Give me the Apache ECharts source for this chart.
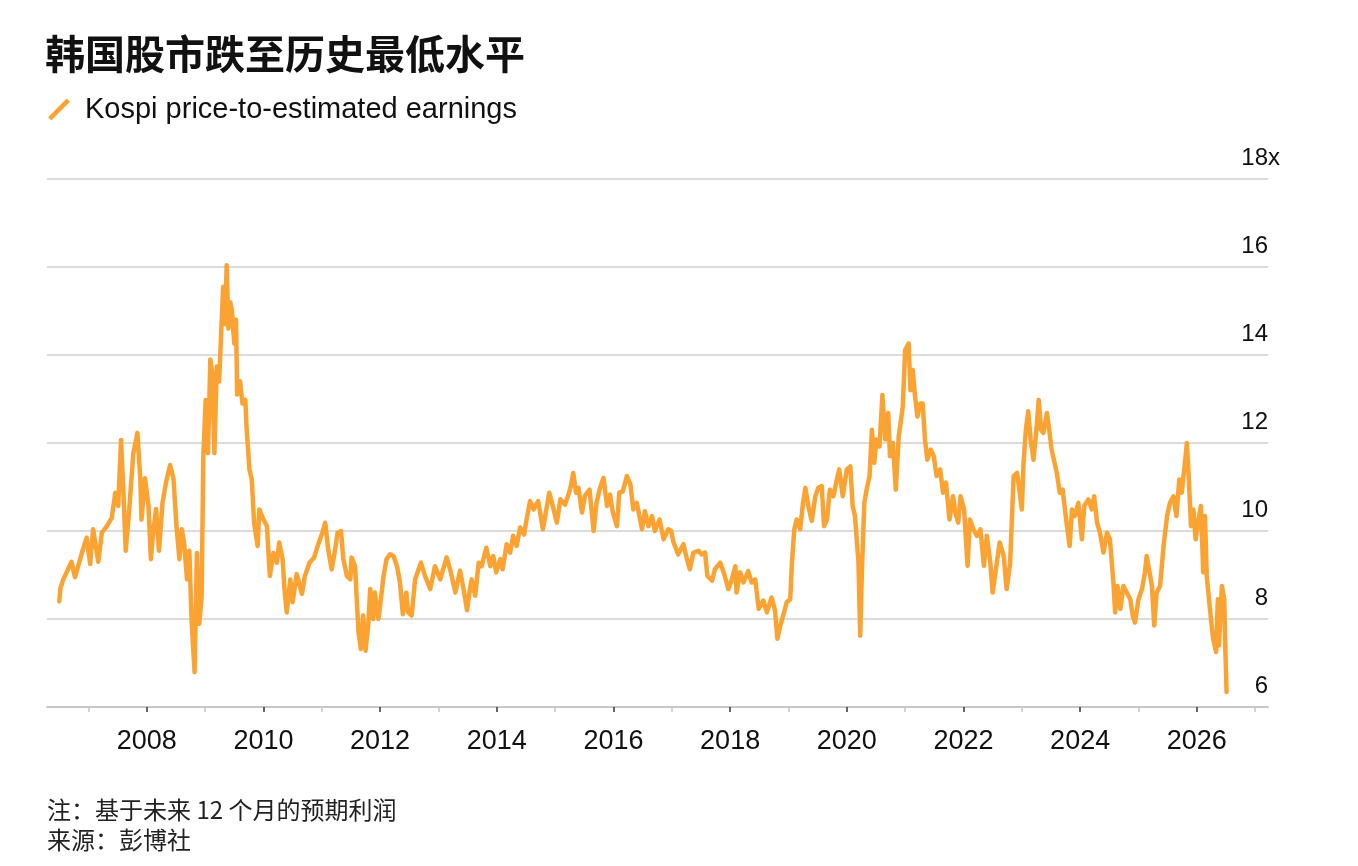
<!DOCTYPE html>
<html>
<head>
<meta charset="utf-8">
<title>韩国股市跌至历史最低水平</title>
<script src="https://cdn.jsdelivr.net/npm/echarts@6/dist/echarts.min.js"></script>
<style>
  html, body { margin: 0; padding: 0; background: #fff; }
  #main { width: 1358px; height: 866px; }
</style>
</head>
<body>
<div id="main"></div>
<script>
// 日期（年份，小数表示年内位置）
var dates = [
  2006.50, 2006.52, 2006.57, 2006.71, 2006.77, 2006.91, 2006.97, 2007.03, 2007.08, 2007.17,
  2007.23, 2007.31, 2007.40, 2007.46, 2007.51, 2007.56, 2007.60, 2007.64, 2007.70, 2007.77,
  2007.84, 2007.89, 2007.91, 2007.97, 2008.03, 2008.07, 2008.11, 2008.16, 2008.21, 2008.27,
  2008.33, 2008.40, 2008.46, 2008.51, 2008.56, 2008.60, 2008.64, 2008.69, 2008.73, 2008.77,
  2008.82, 2008.86, 2008.90, 2008.94, 2008.97, 2009.01, 2009.05, 2009.09, 2009.12, 2009.16,
  2009.20, 2009.24, 2009.29, 2009.31, 2009.34, 2009.37, 2009.40, 2009.43, 2009.46, 2009.50,
  2009.53, 2009.55, 2009.60, 2009.64, 2009.69, 2009.71, 2009.76, 2009.80, 2009.84, 2009.90,
  2009.93, 2010.00, 2010.06, 2010.11, 2010.17, 2010.23, 2010.27, 2010.33, 2010.36, 2010.40,
  2010.46, 2010.50, 2010.57, 2010.66, 2010.71, 2010.79, 2010.87, 2010.94, 2011.00, 2011.06,
  2011.11, 2011.17, 2011.23, 2011.27, 2011.33, 2011.37, 2011.43, 2011.49, 2011.51, 2011.57,
  2011.63, 2011.67, 2011.71, 2011.75, 2011.80, 2011.83, 2011.88, 2011.91, 2011.97, 2012.00,
  2012.06, 2012.11, 2012.17, 2012.23, 2012.29, 2012.34, 2012.39, 2012.45, 2012.48, 2012.54,
  2012.60, 2012.66, 2012.70, 2012.77, 2012.86, 2012.94, 2013.03, 2013.14, 2013.20, 2013.29,
  2013.37, 2013.43, 2013.49, 2013.54, 2013.57, 2013.63, 2013.69, 2013.74, 2013.82, 2013.89,
  2013.94, 2013.99, 2014.06, 2014.10, 2014.17, 2014.23, 2014.28, 2014.34, 2014.40, 2014.47,
  2014.51, 2014.57, 2014.63, 2014.71, 2014.79, 2014.85, 2014.90, 2014.96, 2015.03, 2015.09,
  2015.17, 2015.23, 2015.27, 2015.31, 2015.36, 2015.40, 2015.46, 2015.51, 2015.59, 2015.66,
  2015.71, 2015.77, 2015.83, 2015.89, 2015.94, 2015.99, 2016.06, 2016.10, 2016.16, 2016.23,
  2016.29, 2016.34, 2016.40, 2016.49, 2016.54, 2016.60, 2016.66, 2016.71, 2016.79, 2016.86,
  2016.94, 2016.99, 2017.03, 2017.11, 2017.20, 2017.26, 2017.31, 2017.37, 2017.46, 2017.51,
  2017.57, 2017.61, 2017.69, 2017.74, 2017.83, 2017.89, 2017.97, 2018.03, 2018.09, 2018.11,
  2018.17, 2018.23, 2018.31, 2018.37, 2018.43, 2018.49, 2018.57, 2018.63, 2018.71, 2018.77,
  2018.81, 2018.86, 2018.91, 2018.97, 2019.03, 2019.06, 2019.10, 2019.14, 2019.20, 2019.25,
  2019.29, 2019.34, 2019.40, 2019.46, 2019.51, 2019.57, 2019.61, 2019.66, 2019.71, 2019.77,
  2019.83, 2019.87, 2019.93, 2020.00, 2020.06, 2020.10, 2020.14, 2020.20, 2020.23, 2020.26,
  2020.30, 2020.34, 2020.39, 2020.43, 2020.47, 2020.51, 2020.56, 2020.61, 2020.66, 2020.71,
  2020.74, 2020.79, 2020.84, 2020.89, 2020.93, 2020.96, 2021.00, 2021.06, 2021.09, 2021.13,
  2021.17, 2021.21, 2021.26, 2021.30, 2021.34, 2021.38, 2021.44, 2021.49, 2021.54, 2021.60,
  2021.65, 2021.70, 2021.76, 2021.82, 2021.86, 2021.91, 2021.95, 2022.01, 2022.07, 2022.11,
  2022.17, 2022.23, 2022.29, 2022.35, 2022.40, 2022.46, 2022.50, 2022.54, 2022.62, 2022.69,
  2022.74, 2022.80, 2022.86, 2022.92, 2023.00, 2023.03, 2023.07, 2023.11, 2023.15, 2023.20,
  2023.25, 2023.29, 2023.33, 2023.37, 2023.43, 2023.47, 2023.51, 2023.55, 2023.60, 2023.65,
  2023.70, 2023.76, 2023.82, 2023.86, 2023.91, 2023.97, 2024.03, 2024.07, 2024.14, 2024.20,
  2024.24, 2024.29, 2024.34, 2024.40, 2024.46, 2024.51, 2024.57, 2024.60, 2024.64, 2024.69,
  2024.74, 2024.80, 2024.86, 2024.90, 2024.94, 2025.00, 2025.06, 2025.11, 2025.14, 2025.20,
  2025.23, 2025.27, 2025.31, 2025.37, 2025.43, 2025.49, 2025.54, 2025.60, 2025.65, 2025.70,
  2025.74, 2025.79, 2025.83, 2025.86, 2025.90, 2025.94, 2025.98, 2026.03, 2026.07, 2026.11,
  2026.14, 2026.17, 2026.22, 2026.26, 2026.28, 2026.33, 2026.36, 2026.38, 2026.43, 2026.47,
  2026.49, 2026.51
];

// Kospi 预期市盈率
var pe = [
  8.40, 8.70, 8.90, 9.30, 8.95, 9.60, 9.85, 9.25, 10.04, 9.30,
  9.96, 10.10, 10.30, 10.87, 10.57, 12.07, 10.87, 9.55, 10.50, 11.77,
  12.23, 11.17, 10.26, 11.20, 10.57, 9.36, 9.96, 10.50, 9.55, 10.64,
  11.10, 11.50, 11.17, 10.10, 9.36, 10.04, 9.74, 8.90, 9.55, 7.92,
  6.79, 9.50, 7.89, 8.50, 11.70, 12.98, 11.77, 13.90, 13.60, 11.77,
  13.74, 13.40, 14.94, 15.55, 14.70, 16.04, 14.60, 15.20, 15.00, 14.26,
  14.80, 13.10, 13.40, 12.90, 12.98, 12.38, 11.40, 11.17, 10.19, 9.66,
  10.49, 10.26, 10.11, 8.98, 9.50, 9.28, 9.74, 9.36, 8.68, 8.15,
  8.90, 8.38, 9.02, 8.57, 8.98, 9.28, 9.40, 9.70, 9.92, 10.19,
  9.58, 9.13, 9.58, 9.96, 10.00, 9.36, 8.98, 8.90, 9.40, 9.20,
  7.70, 7.32, 8.08, 7.28, 7.92, 8.68, 8.00, 8.60, 8.00, 8.30,
  8.98, 9.36, 9.47, 9.43, 9.20, 8.83, 8.11, 8.60, 8.15, 8.08,
  8.90, 9.13, 9.28, 8.98, 8.68, 9.20, 8.90, 9.40, 9.13, 8.60,
  9.10, 8.68, 8.20, 8.68, 8.90, 8.53, 9.28, 9.20, 9.62, 9.20,
  9.43, 9.06, 9.36, 9.13, 9.70, 9.51, 9.89, 9.66, 10.08, 9.92,
  10.26, 10.68, 10.49, 10.68, 10.04, 10.49, 10.87, 10.57, 10.19, 10.72,
  10.60, 10.83, 11.02, 11.32, 10.87, 10.98, 10.42, 10.80, 10.94, 10.00,
  10.64, 10.98, 11.21, 10.57, 10.83, 10.42, 10.11, 10.87, 10.90, 11.25,
  11.06, 10.49, 10.64, 10.04, 10.45, 10.11, 10.34, 10.00, 10.26, 9.81,
  10.04, 10.00, 9.74, 9.47, 9.70, 9.36, 9.13, 9.51, 9.55, 9.47,
  9.51, 8.98, 8.87, 9.13, 9.28, 9.06, 8.68, 8.90, 9.20, 8.60,
  9.06, 8.83, 9.09, 8.83, 8.90, 8.23, 8.42, 8.15, 8.49, 8.19,
  7.55, 7.85, 8.08, 8.38, 8.45, 9.28, 10.04, 10.26, 10.04, 10.64,
  10.98, 10.57, 10.23, 10.79, 10.98, 11.02, 10.11, 10.26, 10.94, 10.79,
  11.17, 11.40, 10.79, 11.40, 11.47, 10.57, 10.34, 9.28, 7.62, 9.13,
  10.64, 10.94, 11.25, 12.30, 11.55, 12.08, 11.92, 13.09, 12.08, 12.68,
  11.70, 12.00, 10.94, 12.15, 12.53, 12.83, 14.11, 14.26, 13.20, 13.66,
  13.06, 12.60, 12.90, 12.90, 12.08, 11.62, 11.85, 11.70, 11.25, 11.40,
  10.87, 11.10, 10.26, 10.79, 10.42, 10.19, 10.79, 10.49, 9.21, 10.26,
  10.04, 9.89, 10.04, 9.21, 9.89, 9.28, 8.60, 8.98, 9.74, 9.43,
  8.68, 9.28, 11.25, 11.32, 10.49, 11.55, 12.30, 12.72, 12.08, 11.62,
  12.30, 12.98, 12.30, 12.23, 12.68, 12.30, 11.85, 11.62, 11.32, 10.87,
  10.94, 10.26, 9.66, 10.49, 10.34, 10.64, 9.81, 10.57, 10.72, 10.49,
  10.79, 10.19, 9.96, 9.51, 9.96, 9.81, 8.83, 8.15, 8.75, 8.23,
  8.75, 8.60, 8.45, 8.08, 7.92, 8.45, 8.68, 9.06, 9.43, 8.98,
  8.75, 7.85, 8.60, 8.75, 9.66, 10.34, 10.64, 10.79, 10.34, 11.17,
  10.87, 11.47, 12.00, 11.25, 10.11, 10.49, 9.81, 10.26, 10.57, 9.06,
  10.34, 8.98, 8.30, 7.77, 7.55, 7.25, 8.45, 7.40, 8.75, 8.45,
  7.25, 6.34
];

// 坐标轴刻度
var labelYears = [2008, 2010, 2012, 2014, 2016, 2018, 2020, 2022, 2024, 2026];
var minorYears = [2007, 2009, 2011, 2013, 2015, 2017, 2019, 2021, 2023, 2025, 2027];
var yTicks = { min: 6, max: 18, step: 2 };

var seriesData = dates.map(function (d, i) { return [d, pe[i]]; });

var latin = '"Liberation Sans", Arial, "Noto Sans CJK SC", sans-serif';
var cjk = '"Noto Sans CJK SC", "Liberation Sans", sans-serif';
var orange = '#faa332';

var myChart = echarts.init(document.getElementById('main'));
var option = {
    backgroundColor: '#fff',
    animation: false,
    title: [{
        text: '韩国股市跌至历史最低水平',
        left: 45,
        top: 34,
        padding: 0,
        textStyle: { fontFamily: cjk, fontSize: 40, fontWeight: 'bold', color: '#111' }
    }, {
        text: '注：基于未来 12 个月的预期利润\n来源：彭博社',
        left: 47,
        top: 795,
        padding: 0,
        textStyle: { fontFamily: cjk, fontSize: 24, fontWeight: 'normal', color: '#222', lineHeight: 30 }
    }],
    legend: {
        left: 48,
        top: 95,
        padding: 0,
        itemWidth: 22,
        itemHeight: 22,
        icon: 'path://M1,18 L18,1 L21,4 L4,21 Z',
        textStyle: { fontFamily: latin, fontSize: 29, color: '#111', padding: [0, 0, 0, 10] },
        data: ['Kospi price-to-estimated earnings']
    },
    grid: { left: 47, right: 90, top: 179, bottom: 159, containLabel: false },
    xAxis: [{
        type: 'value',
        min: 2006.29,
        max: 2027.22,
        axisLine: { show: true, lineStyle: { color: '#c8c8c8', width: 2 } },
        axisTick: { show: true, customValues: labelYears, length: 5, lineStyle: { color: '#333', width: 1.5 } },
        axisLabel: {
            customValues: labelYears,
            margin: 21,
            fontFamily: latin, fontSize: 27, color: '#111',
            formatter: function (v) { return String(v); }
        },
        splitLine: { show: false }
    }, {
        type: 'value',
        min: 2006.29,
        max: 2027.22,
        position: 'bottom',
        axisLine: { show: false },
        axisTick: { show: true, customValues: minorYears, length: 5, lineStyle: { color: '#c8c8c8', width: 1.5 } },
        axisLabel: { show: false },
        splitLine: { show: false }
    }],
    yAxis: {
        type: 'value',
        position: 'right',
        min: yTicks.min,
        max: yTicks.max,
        interval: yTicks.step,
        axisLine: { show: false },
        axisTick: { show: false },
        splitLine: { lineStyle: { color: '#cfcfcf', width: 1.5 } },
        axisLabel: {
            margin: 0,
            align: 'right',
            verticalAlign: 'bottom',
            padding: [0, 0, 9, 0],
            fontFamily: latin, fontSize: 24, color: '#111',
            formatter: function (v) { return String(v); }
        }
    },
    graphic: [{
        type: 'text',
        x: 1268,
        y: 170,
        style: { text: 'x', fontFamily: latin, fontSize: 24, fill: '#111', align: 'left', verticalAlign: 'bottom' }
    }],
    series: [{
        name: 'Kospi price-to-estimated earnings',
        type: 'line',
        xAxisIndex: 0,
        showSymbol: false,
        data: seriesData,
        color: orange,
        lineStyle: { color: orange, width: 4.5, join: 'round', cap: 'round' }
    }]
};
myChart.setOption(option);
</script>
</body>
</html>
